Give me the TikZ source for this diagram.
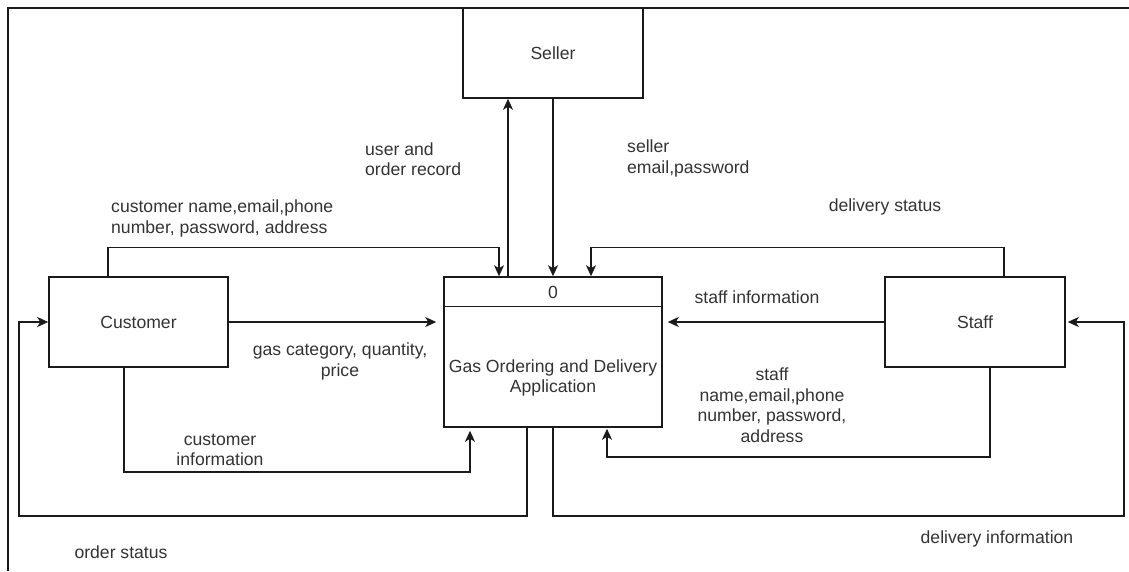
\documentclass[tikz,border=0pt]{standalone}
\usepackage{fontspec}
\setmainfont{Liberation Sans}
\usetikzlibrary{calc,arrows.meta}
\definecolor{txt}{HTML}{333333}
\definecolor{ln}{HTML}{1A1A1A}
\tikzset{
  box/.style={draw=ln, line width=1.5pt, minimum width=180pt, minimum height=90pt, inner sep=0pt, text=txt, font=\fontsize{17.6}{20.5}\selectfont},
  flow/.style={draw=ln, line width=1.5pt},
  arr/.style={flow, -{Stealth[length=11pt,width=10pt,inset=3pt]}},
  lbl/.style={text=txt, font=\fontsize{17.6}{20.5}\selectfont, inner sep=0pt},
}
\begin{document}
\begin{tikzpicture}[x=1pt,y=-1pt]
\useasboundingbox (0,0) rectangle (1129,571);
% frame
\draw[ln, line width=2pt] (7.5,571) -- (7.5,7.5) -- (1129,7.5);
% nodes
\node[box] (seller) at (553,53) {Seller};
\node[box, minimum width=218pt, minimum height=150pt] (proc) at (553,352) {};
\draw[flow] ($(proc.north west)+(0,30)$) -- ($(proc.north east)+(0,30)$);
\node[lbl] (pnum) at (553,292) {0};
\node[lbl, align=center] (pname) at (553,378) {Gas Ordering and Delivery\\Application};
\node[box, minimum width=179pt] (cust) at (138.5,322) {Customer};
\node[box] (stf) at (975,322) {Staff};
\coordinate (lx) at (19,516);
\coordinate (rx) at (1124,516);
% seller flows
\draw[arr] ($(proc.north)+(-45,0)$) -- ($(seller.south)+(-45,0)$);
\draw[arr] (seller.south) -- (proc.north);
% customer flows
\draw[arr] ($(cust.north)+(-30.5,0)$) |- ($(proc.north)+(-54,-29)$) -- ($(proc.north)+(-54,0)$);
\draw[arr, shorten >=7pt] (cust.east) -- (proc.west |- cust.east);
\draw[arr, shorten >=3pt] ($(cust.south)+(-14.5,0)$) |- ($(proc.south)+(-83,44)$) -- ($(proc.south)+(-83,0)$);
\draw[arr] ($(proc.south)+(-26,0)$) |- (lx) |- (cust.west);
% staff flows
\draw[arr] ($(stf.north)+(29,0)$) |- ($(proc.north)+(38,-29)$) -- ($(proc.north)+(38,0)$);
\draw[arr, shorten >=5pt] (stf.west) -- (proc.east |- stf.west);
\draw[arr, shorten >=1pt] ($(stf.south)+(15,0)$) |- ($(proc.south)+(54,29)$) -- ($(proc.south)+(54,0)$);
\draw[arr, shorten >=2pt] (proc.south) |- (rx) |- (stf.east);
% labels
\node[lbl, anchor=west, align=left] (l1) at (365,159) {user and\\order record};
\node[lbl, anchor=west, align=left] (l2) at (627,158.5) {seller\\email,password};
\node[lbl, anchor=west, align=left] (l3) at (111,218.5) {customer name,email,phone\\number, password, address};
\node[lbl] (l4) at (885,207) {delivery status};
\node[lbl, align=center] (l5) at (340,361.5) {gas category, quantity,\\price};
\node[lbl] (l6) at (757,297) {staff information};
\node[lbl, align=center] (l7) at (772,405) {staff\\name,email,phone\\number, password,\\address};
\node[lbl, align=center] (l8) at (220,450) {customer\\information};
\node[lbl] (l9) at (121,552) {order status};
\node[lbl] (l10) at (997,539) {delivery information};
\end{tikzpicture}
\end{document}
